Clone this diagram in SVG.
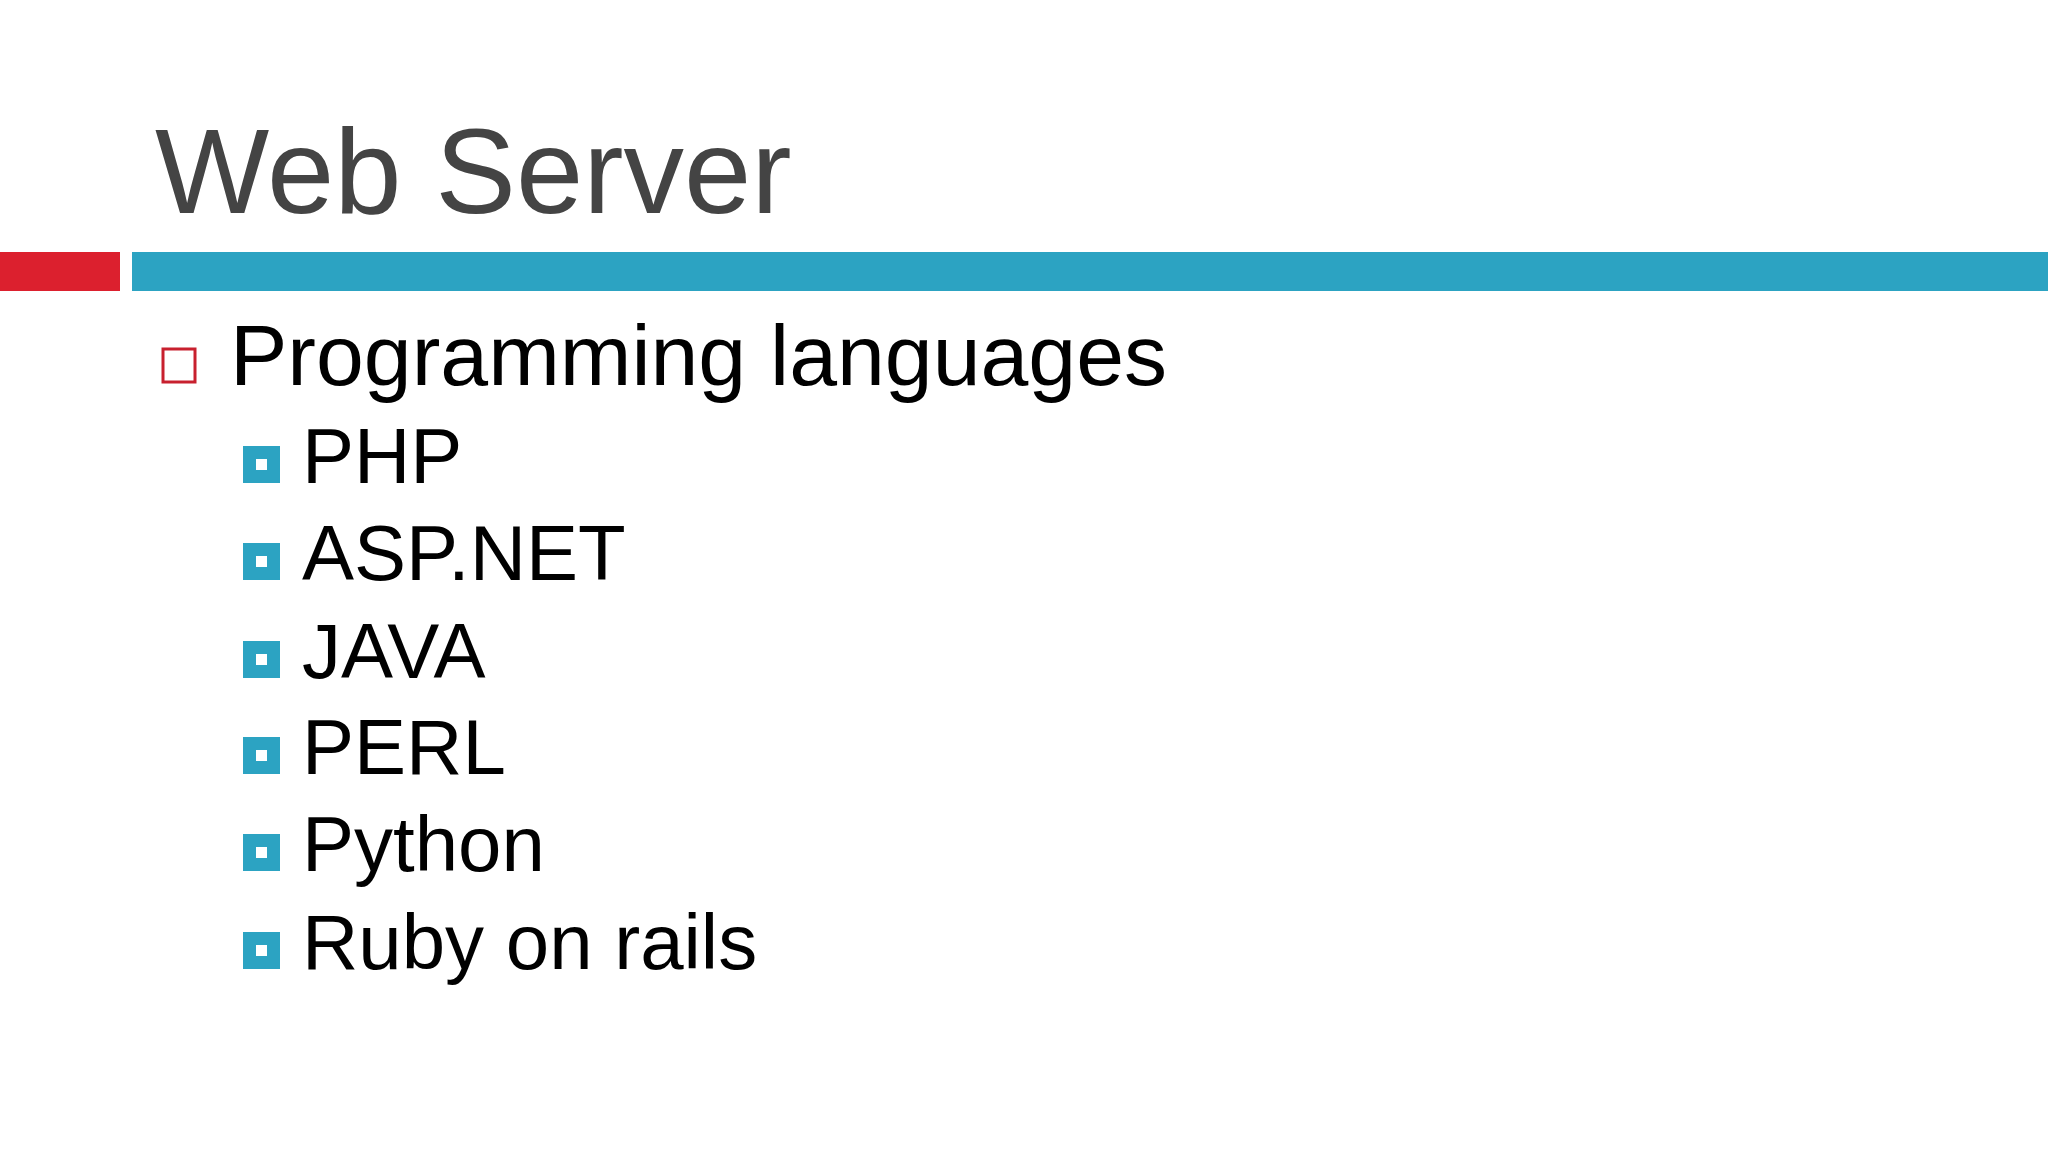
<svg xmlns="http://www.w3.org/2000/svg" width="2048" height="1152" viewBox="0 0 2048 1152">
<style>
.t{font-family:"Liberation Sans",Arial,sans-serif;fill:#000}
.sq{fill:#2ca3c2}
.in{fill:#fff}
</style>
<rect width="2048" height="1152" fill="#fff"/>
<g id="title"><text x="155" y="213" class="t" style="fill:#444;font-size:121px">Web Server</text></g>
<g id="bars">
<rect x="0" y="252" width="120" height="39" fill="#dc202e"/>
<rect x="132" y="252" width="1916" height="39" fill="#2ca3c2"/>
</g>
<g id="main">
<rect x="163" y="349" width="32" height="33" fill="none" stroke="#c8202e" stroke-width="3"/>
<text x="230" y="385" class="t" style="font-size:86px">Programming languages</text>
</g>
<g id="items" style="font-size:78px">
<g id="php"><rect x="243" y="446" width="37" height="37" class="sq"/><rect x="256" y="459" width="11" height="11" class="in"/><text x="302" y="483" class="t">PHP</text></g>
<g id="asp"><rect x="243" y="543" width="37" height="37" class="sq"/><rect x="256" y="556" width="11" height="11" class="in"/><text x="302" y="580" class="t">ASP.NET</text></g>
<g id="java"><rect x="243" y="641" width="37" height="37" class="sq"/><rect x="256" y="654" width="11" height="11" class="in"/><text x="302" y="678" class="t">JAVA</text></g>
<g id="perl"><rect x="243" y="737" width="37" height="37" class="sq"/><rect x="256" y="750" width="11" height="11" class="in"/><text x="302" y="774" class="t">PERL</text></g>
<g id="python"><rect x="243" y="834" width="37" height="37" class="sq"/><rect x="256" y="847" width="11" height="11" class="in"/><text x="302" y="871" class="t">Python</text></g>
<g id="ruby"><rect x="243" y="932" width="37" height="37" class="sq"/><rect x="256" y="945" width="11" height="11" class="in"/><text x="302" y="969" class="t">Ruby on rails</text></g>
</g>
</svg>
